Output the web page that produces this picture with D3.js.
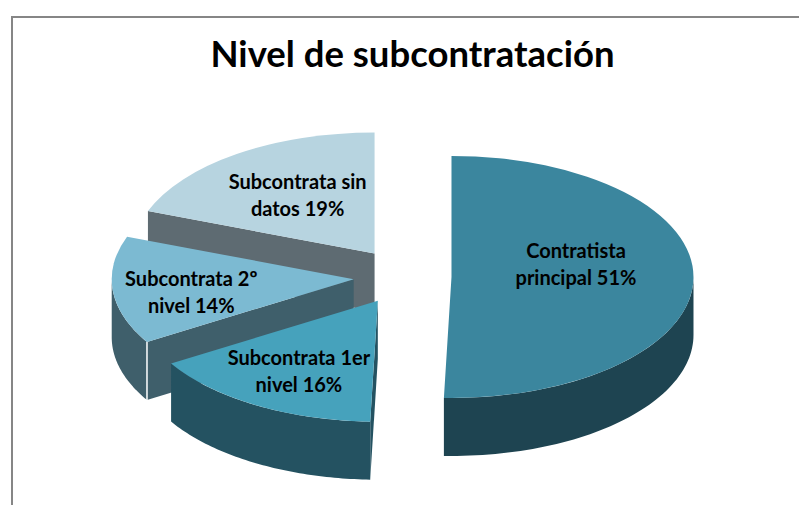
<!DOCTYPE html>
<html><head><meta charset="utf-8">
<script src="https://cdn.jsdelivr.net/npm/d3@7"></script>
<style>html,body{margin:0;padding:0;background:#fff}svg{display:block}</style>
</head><body>
<svg id="c" width="799" height="505"></svg>
<script>
const titleText = "Nivel de subcontratación";
const categories = ["Contratista principal", "Subcontrata 1er nivel", "Subcontrata 2º nivel", "Subcontrata sin datos"];
const values = [50.5, 15.8, 14.4, 19.3];
const labelLines = [["Contratista", "principal 51%"], ["Subcontrata 1er", "nivel 16%"], ["Subcontrata 2º", "nivel 14%"], ["Subcontrata sin", "datos 19%"]];
const topColors = ["#3b869e", "#46a2bc", "#7cbad2", "#b7d4e0"];
const wallColors = ["#1e4451", "#245261", "#3f5f6b", "#5e6b72"];

// layout (not data)
const W = 799, H = 505;
const center = {x: 402.5, y: 276.5};
const rx = 242, ry = 121, depth = 58;
const explodeX = 49, explodeY = 28;
const labelShift = [[3.5, -12], [-18, 20], [-42, 9], [-8, -6.5]];

const svg = d3.select("#c");
svg.append("path")
  .attr("d", d3.line()([[12, H], [12, 17], [W, 17]]))
  .attr("fill", "none").attr("stroke", "#868686").attr("stroke-width", 2);

svg.append("text").text(titleText)
  .attr("x", 412.5).attr("y", 67).attr("text-anchor", "middle")
  .attr("font-family", "Lato, 'Open Sans', sans-serif").attr("font-weight", 700).attr("font-size", 36.5).attr("fill", "#000");

const pie = d3.pie().sort(null).value(d => d).startAngle(0).endAngle(2 * Math.PI);
const arcs = pie(values).map((a, i) => {
  const mid = (a.startAngle + a.endAngle) / 2;
  return {...a, i, mid,
    cx: center.x + explodeX * Math.sin(mid),
    cy: center.y - explodeY * Math.cos(mid)};
});
const pt = (s, t, dy = 0) => [s.cx + rx * Math.sin(t), s.cy - ry * Math.cos(t) + dy];
const arcPts = (s, t0, t1, dy = 0) => d3.range(0, 61).map(k => pt(s, t0 + (t1 - t0) * k / 60, dy));
const line = d3.line();
const topArc = d3.arc().innerRadius(0).outerRadius(rx);

// back-to-front painting order
const PI = Math.PI;
[3, 2, 1, 0].forEach(idx => {
  const s = arcs[idx];
  const g = svg.append("g");
  const apex = [s.cx, s.cy], apexD = [s.cx, s.cy + depth];
  // the cut face at the start of each left-hand slice looks towards the viewer
  if (idx !== 0) {
    const e = pt(s, s.startAngle), eD = pt(s, s.startAngle, depth);
    g.append("path").attr("d", line([apex, e, eD, apexD]) + "Z").attr("fill", wallColors[idx]);
  }
  // outer wall: the arc's part on the front half
  const a0 = Math.max(s.startAngle, PI / 2), a1 = Math.min(s.endAngle, 3 * PI / 2);
  if (a1 > a0) {
    const p = arcPts(s, a0, a1).concat(arcPts(s, a1, a0, depth));
    g.append("path").attr("d", line(p) + "Z").attr("fill", wallColors[idx]);
  }
  if (idx === 2) {
    g.append("path").attr("d", line([pt(s, s.startAngle), pt(s, s.startAngle, depth)]))
      .attr("stroke", "#fff").attr("stroke-width", 1.5).attr("fill", "none");
  }
  g.append("path")
    .attr("d", topArc({startAngle: s.startAngle, endAngle: s.endAngle}))
    .attr("transform", `translate(${s.cx},${s.cy}) scale(1,${ry / rx})`)
    .attr("fill", topColors[idx]);
});

arcs.forEach(s => {
  const c = [s.cx + 0.5 * rx * Math.sin(s.mid), s.cy - 0.5 * ry * Math.cos(s.mid)];
  const x = c[0] + labelShift[s.i][0], y = c[1] + labelShift[s.i][1];
  const t = svg.append("text").attr("text-anchor", "middle")
    .attr("font-family", "Lato, 'Open Sans', sans-serif").attr("font-weight", 700).attr("font-size", 20).attr("fill", "#000");
  labelLines[s.i].forEach((l, k) => {
    t.append("tspan").attr("x", x).attr("y", y - 8 + k * 27).text(l);
  });
});
</script>
</body></html>
